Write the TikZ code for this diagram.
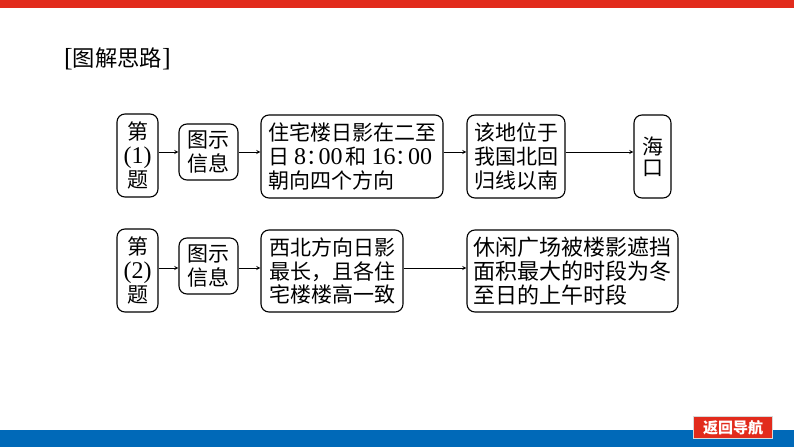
\documentclass[tikz,border=0pt]{standalone}
\usepackage{fontspec}
\setmainfont{Liberation Serif}
\newfontfamily\cjk{Noto Sans CJK SC}
\usetikzlibrary{positioning}
\definecolor{barred}{RGB}{226,43,28}
\definecolor{barblue}{RGB}{0,105,184}
\tikzstyle{flowbox} = [draw,line width=1.1pt,rectangle,rounded corners=.28cm,inner sep=0,font=\cjk\fontsize{21}{23.8}\selectfont]
\tikzstyle{flowarrow} = [->,>=stealth,line width=.9pt]
\newcommand{\lat}[1]{{\rmfamily\fontsize{24}{23.8}\selectfont #1}}
\newcommand{\clockcolon}{：\kern-8.5pt}
\begin{document}
\begin{tikzpicture}[x=1pt,y=-1pt]
      \useasboundingbox (0,0) rectangle (794,447);
      % top and bottom bars
      \fill[barred] (0,0) rectangle (794,8);
      \fill[barblue] (0,430) rectangle (794,447);
      \node[fill=barred,draw=white!85!black,line width=.8pt,minimum width=79pt,minimum height=22pt,inner sep=0,text=white,font=\cjk\bfseries\fontsize{15}{16}\selectfont] (back) at (733,427.5) {返回导航};
      \node[inner sep=0,font=\cjk\fontsize{22.3}{26}\selectfont] (title) at (117.5,59) {\lat{\fontsize{26}{26}\selectfont[}图解思路\lat{\fontsize{26}{26}\selectfont]}};
      \coordinate (rowa) at (0,152);
      \coordinate (rowb) at (0,268);
      % first row
      \node[flowbox,minimum width=41pt,minimum height=83pt,align=center] (qa) at (137.5,155.5) {第\\\lat{(1)}\\题};
      \node[flowbox,minimum width=59pt,minimum height=56pt,align=center] (ia) at (208.5,152) {图示\\信息};
      \node[flowbox,minimum width=182pt,minimum height=83pt,align=left] (ta) at (352,156.5) {住宅楼日影在二至\\日\kern5pt\lat{8}\clockcolon\lat{00}\kern3pt和\kern5pt\lat{16}\clockcolon\lat{00}\\朝向四个方向};
      \node[flowbox,minimum width=98pt,minimum height=83pt,align=left] (pa) at (516,156.5) {该地位于\\我国北回\\归线以南};
      \node[flowbox,minimum width=37pt,minimum height=83pt,align=center] (ha) at (652.5,156.5) {海\\[-3pt]口};
      % second row
      \node[flowbox,minimum width=41pt,minimum height=83pt,align=center] (qb) at (137.5,270.5) {第\\\lat{(2)}\\题};
      \node[flowbox,minimum width=59pt,minimum height=56pt,align=center] (ib) at (208.5,266) {图示\\信息};
      \node[flowbox,minimum width=142pt,minimum height=82pt,align=left] (tb) at (332,271) {西北方向日影\\最长，且各住\\宅楼楼高一致};
      \node[flowbox,minimum width=211pt,minimum height=82pt,align=left,font=\cjk\fontsize{22}{23.8}\selectfont] (pb) at (572.5,271) {休闲广场被楼影遮挡\\面积最大的时段为冬\\至日的上午时段};
      \draw[flowarrow] (qa.east |- rowa) -- (ia.west |- rowa);
      \draw[flowarrow] (ia.east |- rowa) -- (ta.west |- rowa);
      \draw[flowarrow] (ta.east |- rowa) -- (pa.west |- rowa);
      \draw[flowarrow] (pa.east |- rowa) -- (ha.west |- rowa);
      \draw[flowarrow] (qb.east |- rowb) -- (ib.west |- rowb);
      \draw[flowarrow] (ib.east |- rowb) -- (tb.west |- rowb);
      \draw[flowarrow] (tb.east |- rowb) -- (pb.west |- rowb);
    \end{tikzpicture}
\end{document}
